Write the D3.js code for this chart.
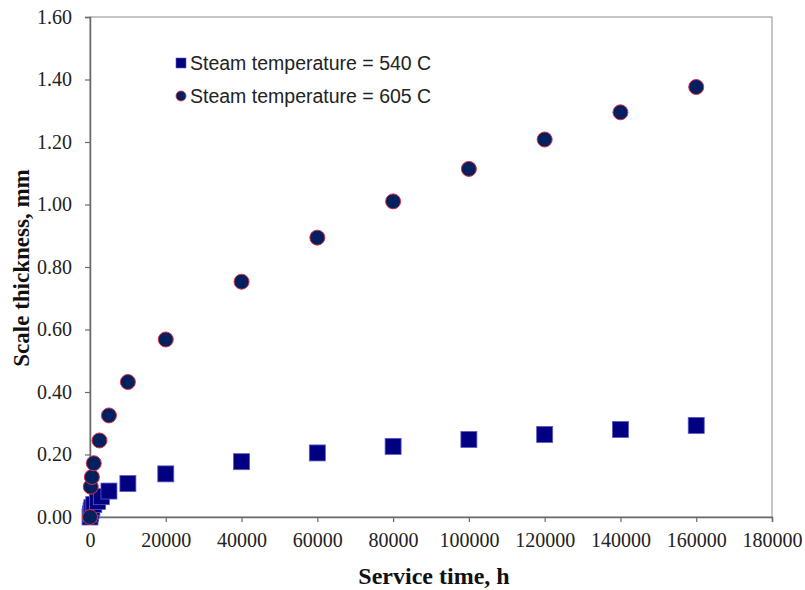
<!DOCTYPE html>
<html><head><meta charset="utf-8">
<script src="https://cdn.jsdelivr.net/npm/d3@7"></script>
<style>body{margin:0;background:#fff}</style>
</head><body>
<svg id="c" width="805" height="590"></svg>
<script>
const hours540 = [0, 100, 300, 500, 1000, 2000, 3000, 5000, 10000, 20000, 40000, 60000, 80000, 100000, 120000, 140000, 160000];
const scale540 = [0, 0.01, 0.02, 0.03, 0.04, 0.05, 0.065, 0.083, 0.107, 0.138, 0.177, 0.205, 0.226, 0.248, 0.264, 0.280, 0.293];
const hours605 = [0, 200, 500, 1000, 2500, 5000, 10000, 20000, 40000, 60000, 80000, 100000, 120000, 140000, 160000];
const scale605 = [0, 0.097, 0.128, 0.172, 0.245, 0.325, 0.432, 0.568, 0.753, 0.894, 1.010, 1.114, 1.208, 1.295, 1.376];
const xTicks = [0, 20000, 40000, 60000, 80000, 100000, 120000, 140000, 160000, 180000];
const yTicks = [0, 0.2, 0.4, 0.6, 0.8, 1.0, 1.2, 1.4, 1.6];
const seriesNames = ["Steam temperature = 540 C", "Steam temperature = 605 C"];

const svg = d3.select("#c");
const L = 90, R = 772, T = 17, B = 517;
const x = d3.scaleLinear().domain([0, 180000]).range([L, R]);
const y = d3.scaleLinear().domain([0, 1.6]).range([B, T]);

// frame
svg.append("rect").attr("x", L).attr("y", T).attr("width", R - L).attr("height", B - T)
  .attr("fill", "none").attr("stroke", "#8c8c8c").attr("stroke-width", 1);

const tickFont = "'Liberation Serif','Times New Roman',serif";
const gx = svg.append("g").attr("transform", `translate(0,${B})`)
  .call(d3.axisBottom(x).tickValues(xTicks).tickFormat(d3.format("d")).tickSizeOuter(0).tickSize(5).tickPadding(11));
const gy = svg.append("g").attr("transform", `translate(${L},0)`)
  .call(d3.axisLeft(y).tickValues(yTicks).tickFormat(d3.format(".2f")).tickSizeOuter(0).tickSize(5).tickPadding(13));
[gx, gy].forEach(g => {
  g.select(".domain").attr("stroke", "#6a6a6a").attr("stroke-width", 1.5);
  g.selectAll(".tick line").attr("stroke", "#6a6a6a").attr("stroke-width", 1.2);
  g.selectAll(".tick text").attr("font-family", tickFont).attr("font-size", 20).attr("fill", "#222");
});

// data 540 squares
const s = 16;
svg.append("g").selectAll("rect").data(hours540.map((h, i) => [h, scale540[i]])).join("rect")
  .attr("x", d => x(d[0]) - s / 2).attr("y", d => y(d[1]) - s / 2)
  .attr("width", s).attr("height", s)
  .attr("fill", "#000080").attr("stroke", "#5a5ac8").attr("stroke-width", 0.8);

// data 605 circles
svg.append("g").selectAll("circle").data(hours605.map((h, i) => [h, scale605[i]])).join("circle")
  .attr("cx", d => x(d[0])).attr("cy", d => y(d[1])).attr("r", 7.5)
  .attr("fill", "#002060").attr("stroke", "#e0303c").attr("stroke-width", 1);

// legend
const lg = svg.append("g");
lg.append("rect").attr("x", 176).attr("y", 58).attr("width", 10).attr("height", 10)
  .attr("fill", "#000080").attr("stroke", "#5a5ac8").attr("stroke-width", 0.6);
lg.append("circle").attr("cx", 181).attr("cy", 96).attr("r", 5)
  .attr("fill", "#002060").attr("stroke", "#e0303c").attr("stroke-width", 0.8);
lg.selectAll("text").data(seriesNames).join("text")
  .attr("x", 190).attr("y", (d, i) => 70 + i * 33)
  .attr("font-family", "'Liberation Sans',Arial,sans-serif").attr("font-size", 19.5).attr("fill", "#222")
  .text(d => d);

// axis titles
svg.append("text").attr("x", 434).attr("y", 584).attr("text-anchor", "middle")
  .attr("font-family", tickFont).attr("font-weight", "bold").attr("font-size", 24).attr("fill", "#111")
  .text("Service time, h");
svg.append("text").attr("transform", "translate(29,268) rotate(-90)").attr("text-anchor", "middle")
  .attr("font-family", tickFont).attr("font-weight", "bold").attr("font-size", 23).attr("fill", "#111")
  .text("Scale thickness, mm");
</script>
</body></html>
